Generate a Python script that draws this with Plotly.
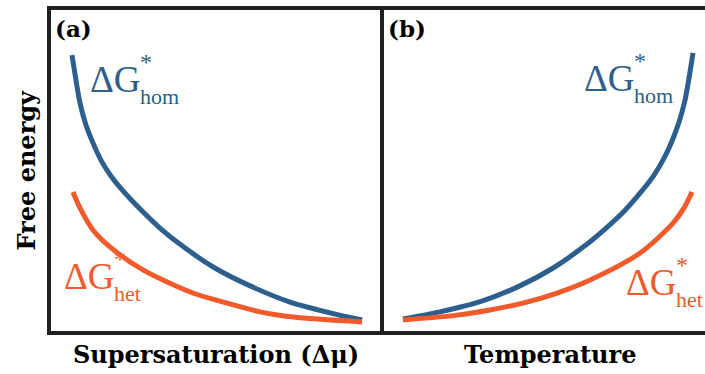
import plotly.graph_objects as go

# ---- data (arbitrary units) ----
sup_x_hom = [0.69, 0.81, 0.93, 1.11, 1.32, 1.56, 1.86, 2.25, 2.73, 3.33, 4.08, 4.98, 6.04, 7.24, 8.44, 9.40]
sup_g_hom = [8.55, 7.78, 7.08, 6.40, 5.85, 5.32, 4.83, 4.34, 3.82, 3.23, 2.62, 2.00, 1.45, 0.95, 0.62, 0.40]
sup_x_het = [0.72, 0.93, 1.32, 1.83, 2.82, 4.32, 5.35, 6.34, 7.33, 9.40]
sup_g_het = [4.34, 3.85, 3.17, 2.65, 1.94, 1.23, 0.92, 0.65, 0.49, 0.34]

tmp_x_hom = [0.63, 1.74, 3.00, 4.14, 5.14, 6.01, 6.73, 7.30, 7.78, 8.17, 8.47, 8.71, 8.92, 9.10, 9.22, 9.34]
tmp_g_hom = [0.43, 0.65, 0.98, 1.45, 2.00, 2.62, 3.23, 3.78, 4.34, 4.86, 5.38, 5.91, 6.49, 7.17, 7.85, 8.62]
tmp_x_het = [0.63, 2.25, 3.24, 4.23, 5.26, 6.25, 7.75, 8.74, 9.07, 9.31]
tmp_g_het = [0.40, 0.55, 0.71, 0.92, 1.23, 1.63, 2.46, 3.38, 3.85, 4.34]

panel_labels = ["(a)", "(b)"]
x_titles = ["Supersaturation (Δμ)", "Temperature"]
y_title = "Free energy"

BLUE = "#2c5f8d"
ORANGE = "#f15a2b"
FRAME = "#231f20"

W, H = 705, 374
def px(x): return x / W
def py(y): return 1 - y / H

fig = go.Figure()
ln = lambda c: dict(color=c, width=5, shape="spline", smoothing=0.8)
fig.add_trace(go.Scatter(x=sup_x_hom, y=sup_g_hom, mode="lines", line=ln(BLUE), xaxis="x", yaxis="y"))
fig.add_trace(go.Scatter(x=sup_x_het, y=sup_g_het, mode="lines", line=ln(ORANGE), xaxis="x", yaxis="y"))
fig.add_trace(go.Scatter(x=tmp_x_hom, y=tmp_g_hom, mode="lines", line=ln(BLUE), xaxis="x2", yaxis="y2"))
fig.add_trace(go.Scatter(x=tmp_x_het, y=tmp_g_het, mode="lines", line=ln(ORANGE), xaxis="x2", yaxis="y2"))

left, mid, top, bot = 49, 382, 8, 333
ydom = [py(bot), py(top)]
ax = dict(visible=False, showgrid=False, zeroline=False, fixedrange=True)
fig.update_layout(
    width=W, height=H, margin=dict(l=0, r=0, t=0, b=0),
    paper_bgcolor="white", plot_bgcolor="white", showlegend=False,
    xaxis=dict(domain=[px(left), px(mid)], range=[0, 10], **ax),
    yaxis=dict(domain=ydom, range=[0, 10], **ax),
    xaxis2=dict(domain=[px(mid), 1], range=[0, (W - mid) / 33.3], **ax),
    yaxis2=dict(domain=ydom, range=[0, 10], anchor="x2", **ax),
)

lw = 4
shapes = [
    dict(x0=px(left), x1=1.0, y0=py(top), y1=py(top)),
    dict(x0=px(left), x1=1.0, y0=py(bot), y1=py(bot)),
    dict(x0=px(left), x1=px(left), y0=py(bot + 2), y1=py(top - 2)),
    dict(x0=px(mid), x1=px(mid), y0=py(bot + 2), y1=py(top - 2)),
]
for s in shapes:
    s.update(type="line", xref="paper", yref="paper", line=dict(color=FRAME, width=lw))
fig.update_layout(shapes=shapes)

serif = "'DejaVu Serif', 'Liberation Serif', serif"
lab = "'Liberation Serif', 'Times New Roman', serif"
ann = []
def add(text, x, y, size, color, family, xa="left", ya="bottom", bold=False, angle=0):
    t = f"<b>{text}</b>" if bold else text
    ann.append(dict(text=t, x=px(x), y=py(y), xref="paper", yref="paper", showarrow=False,
                    xanchor=xa, yanchor=ya, textangle=angle,
                    font=dict(size=size, color=color, family=family)))

# panel labels
add(panel_labels[0], 53, 44, 23, "black", serif, bold=True)
add(panel_labels[1], 386, 44, 23, "black", serif, bold=True)
# axis titles
add(x_titles[0], (left + mid) / 2, 354, 24, "black", serif, xa="center", ya="middle", bold=True)
add(x_titles[1], 550, 354, 24, "black", serif, xa="center", ya="middle", bold=True)
add(y_title, 26, (top + bot) / 2, 24, "black", serif, xa="center", ya="middle", bold=True, angle=-90)

def dg(x, y, color, sub):
    # x,y: left/baseline of "ΔG"
    add("ΔG", x, y + 8, 37, color, lab, xa="left", ya="bottom")
    add("*", x + 50, y - 17, 24, color, lab, xa="left", ya="bottom")
    add(sub, x + 50, y + 17, 22, color, lab, xa="left", ya="bottom")

dg(88, 94, BLUE, "hom")
dg(62, 291, ORANGE, "het")
dg(582, 93, BLUE, "hom")
dg(624, 297, ORANGE, "het")

fig.update_layout(annotations=ann)
fig.write_html("out.html")
